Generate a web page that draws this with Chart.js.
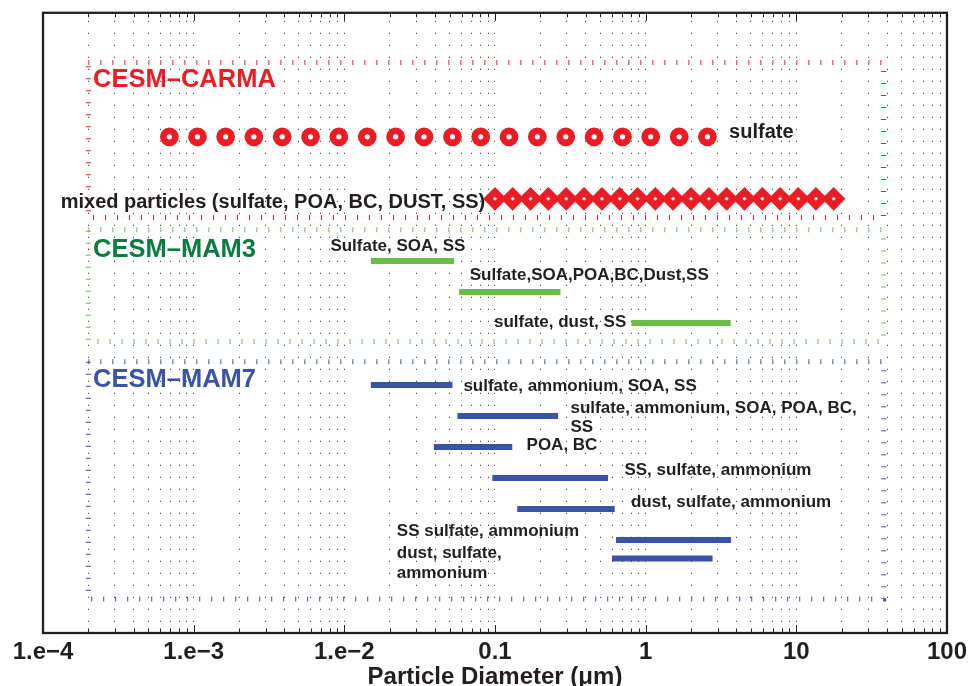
<!DOCTYPE html>
<html>
<head>
<meta charset="utf-8">
<script src="https://cdn.jsdelivr.net/npm/chart.js@4.4.1/dist/chart.umd.min.js"></script>
<style>
  html, body { margin: 0; padding: 0; background: #fff; }
  #wrap { width: 972px; height: 686px; }
</style>
</head>
<body>
<div id="wrap"><canvas id="chart-size"></canvas></div>
<script>
/* ------------------------------
 * data (particle diameter, um)
 * ------------------------------ */
const tickValues = [1e-4, 1e-3, 1e-2, 0.1, 1, 10, 100];
const tickLabels = ['1.e\u22124', '1.e\u22123', '1.e\u22122', '0.1', '1', '10', '100'];

// CESM-CARMA bins
const carmaSulfateD = [6.9e-4, 1.06e-3, 1.63e-3, 2.51e-3, 3.87e-3, 5.97e-3, 9.2e-3, 0.0142, 0.0219, 0.0338,
                       0.0522, 0.0804, 0.124, 0.191, 0.295, 0.455, 0.702, 1.08, 1.67, 2.57];
const carmaMixedD = [0.1, 0.131, 0.172, 0.226, 0.297, 0.390, 0.513, 0.673, 0.884, 1.16,
                     1.52, 2.00, 2.63, 3.45, 4.53, 5.95, 7.81, 10.3, 13.5, 17.7];
const carmaRows = [16, 14];

// CESM-MAM3 modes
const mam3Lo  = [0.015, 0.0578, 0.804];
const mam3Hi  = [0.0535, 0.272, 3.67];
const mam3Row = [12, 11, 10];

// CESM-MAM7 modes
const mam7Lo  = [0.015, 0.0563, 0.0393, 0.096, 0.1405, 0.636, 0.598];
const mam7Hi  = [0.0522, 0.2626, 0.1302, 0.5627, 0.6233, 3.69, 2.78];
const mam7Row = [8, 7, 6, 5, 4, 3, 2.4];

// model group boxes
const modelNames = ['CESM\u2013CARMA', 'CESM\u2013MAM3', 'CESM\u2013MAM7'];
const boxXMin = [2e-4, 2e-4, 2e-4];
const boxXMax = [38, 38, 38];
const boxYMin = [13.4, 9.4, 1.1];
const boxYMax = [18.4, 13.0, 8.75];

// text notes (anchor = left / baseline, data units)
const noteText = [
  'sulfate', 'mixed particles (sulfate, POA, BC, DUST, SS)',
  'Sulfate, SOA, SS', 'Sulfate,SOA,POA,BC,Dust,SS', 'sulfate, dust, SS',
  'sulfate, ammonium, SOA, SS', 'sulfate, ammonium, SOA, POA, BC,', 'SS', 'POA, BC',
  'SS, sulfate, ammonium', 'dust, sulfate, ammonium', 'SS sulfate, ammonium', 'dust, sulfate,', 'ammonium'
];
const noteX = [3.58, 1.31e-4, 8.08e-3, 0.068, 0.0985, 0.0617, 0.317, 0.317, 0.162, 0.723, 0.799, 0.0223, 0.0223, 0.0223];
const noteY = [15.97, 13.69, 12.31, 11.39, 9.855, 7.79, 7.085, 6.47, 5.89, 5.09, 4.06, 3.14, 2.43, 1.77];
const titleX = 2.15e-4;
const titleY = [17.6, 12.12, 7.93];

/* ------------------------------
 * styles
 * ------------------------------ */
const COLORS = {
  red: '#ec1c24',
  green: '#6abd45',
  greenText: '#0a7d3e',
  blue: '#3a53a4',
  ink: '#231f20'
};
const FONT = '"Liberation Sans", Arial, Helvetica, sans-serif';
Chart.defaults.font.family = FONT;

/* ------------------------------
 * datasets
 * ------------------------------ */
const datasets = [];

// white centre dot of the diamonds (drawn on top)
datasets.push({
  label: 'CARMA mixed centre',
  data: carmaMixedD.map(d => ({ x: d, y: carmaRows[1] })),
  pointStyle: 'rectRot',
  pointRadius: 2,
  pointBorderWidth: 0,
  pointBackgroundColor: '#fff',
  showLine: false
});

datasets.push({
  label: 'CARMA mixed',
  data: carmaMixedD.map(d => ({ x: d, y: carmaRows[1] })),
  pointStyle: 'rectRot',
  pointRadius: 11.8,
  pointBorderWidth: 0,
  pointBackgroundColor: COLORS.red,
  showLine: false
});

datasets.push({
  label: 'CARMA sulfate',
  data: carmaSulfateD.map(d => ({ x: d, y: carmaRows[0] })),
  pointStyle: 'circle',
  pointRadius: 6,
  pointBorderWidth: 6.8,
  pointBorderColor: COLORS.red,
  pointBackgroundColor: '#fff',
  showLine: false
});

function addBars(lo, hi, rows, color) {
  lo.forEach((v, i) => {
    datasets.push({
      data: [{ x: v, y: rows[i] }, { x: hi[i], y: rows[i] }],
      showLine: true,
      borderColor: color,
      borderWidth: 6,
      borderCapStyle: 'butt',
      pointRadius: 0
    });
  });
}
addBars(mam3Lo, mam3Hi, mam3Row, COLORS.green);
addBars(mam7Lo, mam7Hi, mam7Row, COLORS.blue);

const boxColors = [COLORS.red, COLORS.green, COLORS.blue];
modelNames.forEach((name, i) => {
  datasets.push({
    label: name,
    data: [
      { x: boxXMin[i], y: boxYMax[i] }, { x: boxXMax[i], y: boxYMax[i] },
      { x: boxXMax[i], y: boxYMin[i] }, { x: boxXMin[i], y: boxYMin[i] },
      { x: boxXMin[i], y: boxYMax[i] }
    ],
    showLine: true,
    borderColor: boxColors[i],
    borderWidth: 5,
    borderDash: [1, 11],
    borderCapStyle: 'butt',
    pointRadius: 0
  });
});

/* ------------------------------
 * plugins: notes + frame/ticks
 * ------------------------------ */
const notesPlugin = {
  id: 'notes',
  afterDatasetsDraw(chart) {
    const { ctx, scales: { x, y } } = chart;
    ctx.save();
    ctx.textAlign = 'left';
    ctx.textBaseline = 'alphabetic';

    ctx.font = 'bold 25.5px ' + FONT;
    const titleColors = [COLORS.red, COLORS.greenText, COLORS.blue];
    modelNames.forEach((name, i) => {
      ctx.fillStyle = titleColors[i];
      ctx.fillText(name, x.getPixelForValue(titleX), y.getPixelForValue(titleY[i]));
    });

    ctx.fillStyle = COLORS.ink;
    noteText.forEach((t, i) => {
      ctx.font = (i < 2 ? 'bold 20px ' : 'bold 17px ') + FONT;
      ctx.fillText(t, x.getPixelForValue(noteX[i]), y.getPixelForValue(noteY[i]));
    });
    ctx.restore();
  }
};

const framePlugin = {
  id: 'frame',
  afterDraw(chart) {
    const { ctx, chartArea: a, scales: { x } } = chart;
    ctx.save();
    ctx.strokeStyle = COLORS.ink;
    ctx.lineWidth = 1;
    x.ticks.forEach(t => {
      const px = Math.round(x.getPixelForValue(t.value)) + 0.5;
      const len = t.major ? 8 : 4.5;
      ctx.beginPath();
      ctx.moveTo(px, a.bottom); ctx.lineTo(px, a.bottom - len);
      ctx.moveTo(px, a.top); ctx.lineTo(px, a.top + len);
      ctx.stroke();
    });
    ctx.lineWidth = 2.3;
    ctx.strokeRect(a.left, a.top, a.right - a.left, a.bottom - a.top);
    ctx.restore();
  }
};

/* ------------------------------
 * chart
 * ------------------------------ */
const isDecade = v => tickValues.findIndex(t => Math.abs(Math.log10(v) - Math.log10(t)) < 1e-6);

new Chart(document.getElementById('chart-size'), {
  type: 'scatter',
  data: { datasets },
  plugins: [notesPlugin, framePlugin],
  options: {
    responsive: true,
    maintainAspectRatio: false,
    animation: false,
    layout: { padding: { left: 43, right: 23, top: 12, bottom: 0 } },
    scales: {
      x: {
        type: 'logarithmic',
        min: 1e-4,
        max: 100,
        afterBuildTicks: (scale) => {
          const ticks = [];
          for (let e = -4; e < 2; e++) {
            for (let m = 1; m < 10; m++) {
              ticks.push({ value: m * Math.pow(10, e), major: m === 1 });
            }
          }
          ticks.push({ value: 100, major: true });
          scale.ticks = ticks;
        },
        afterFit: (scale) => { scale.height = 53; },
        grid: {
          color: COLORS.ink,
          lineWidth: 1,
          drawTicks: false
        },
        border: { display: false, dash: [1, 11], dashOffset: 4 },
        ticks: {
          autoSkip: false,
          maxRotation: 0,
          padding: 5,
          color: COLORS.ink,
          font: { size: 24, weight: 'bold' },
          callback: (v) => {
            const i = isDecade(v);
            return i >= 0 ? tickLabels[i] : '';
          }
        },
        title: {
          display: true,
          text: 'Particle Diameter (\u03bcm)',
          color: COLORS.ink,
          font: { size: 24, weight: 'bold', lineHeight: 0.75 },
          padding: 0
        }
      },
      y: {
        display: false,
        min: 0,
        max: 20
      }
    },
    plugins: {
      legend: { display: false },
      tooltip: { enabled: false }
    }
  }
});
</script>
</body>
</html>
